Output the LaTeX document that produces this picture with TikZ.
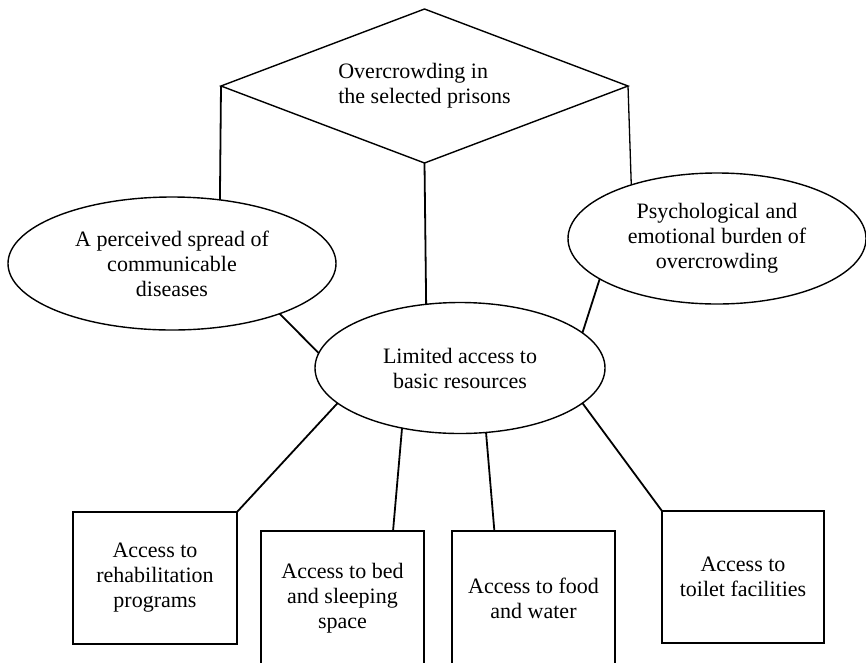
\documentclass[tikz,border=0pt]{standalone}
\usepackage{fontspec}
\setmainfont{Liberation Serif}
\usetikzlibrary{shapes.geometric,calc}
\begin{document}
\begin{tikzpicture}[x=1pt,y=-1pt,
  every node/.style={font=\fontsize{22}{25}\selectfont, text=black},
  shp/.style={draw=black, line width=1.4pt, inner sep=0pt, outer sep=0pt, align=center},
  ell/.style={shp, ellipse},
  rbox/.style={shp, rectangle, minimum width=163pt, minimum height=132pt},
  conn/.style={draw=black, line width=1.8pt}]
\fill[white] (0,0) rectangle (866,662);
\useasboundingbox (0,0) rectangle (866,662);

% top diamond
\node[shp, diamond, aspect=2.64, minimum width=407pt, minimum height=154pt, align=left] (dia) at (424.5,86)
  {Overcrowding in\\the selected prisons};

% ellipses
\node[ell, minimum width=328pt, minimum height=133pt] (perc) at (172,263.5)
  {A perceived spread of\\communicable\\diseases};
\node[ell, minimum width=298pt, minimum height=131pt] (psy) at (717,238.5)
  {Psychological and\\emotional burden of\\overcrowding};
\node[ell, minimum width=290pt, minimum height=131pt] (lim) at (460,368)
  {Limited access to\\basic resources};

% boxes
\node[rbox, minimum width=164pt] (b1) at (155,578)
  {Access to\\rehabilitation\\programs};
\node[rbox, minimum height=134pt] (b2) at (342.5,598)
  {Access to bed\\and sleeping\\space};
\node[rbox, minimum height=134pt] (b3) at (533.5,598)
  {Access to food\\and water};
\node[rbox, minimum width=162pt] (b4) at (743,577)
  {Access to\\toilet facilities};

% connectors
\draw[conn] (dia.west) -- (perc.53);
\draw[conn, line width=1.3pt] (dia.east) -- (psy.148.5);
\draw[conn] (dia.south) -- (lim.118.6);
\draw[conn] (perc.335.4) -- (lim.174.4);
\draw[conn] (psy.199.3) -- (lim.16.7);
\draw[conn] (b1.north east) -- (lim.196.3);
\draw[conn] ($(b2.north west)!0.81!(b2.north east)$) -- (lim.226);
\draw[conn] ($(b3.north west)!0.26!(b3.north east)$) -- (lim.292.6);
\draw[conn] (b4.north west) -- (lim.344);
\end{tikzpicture}
\end{document}
